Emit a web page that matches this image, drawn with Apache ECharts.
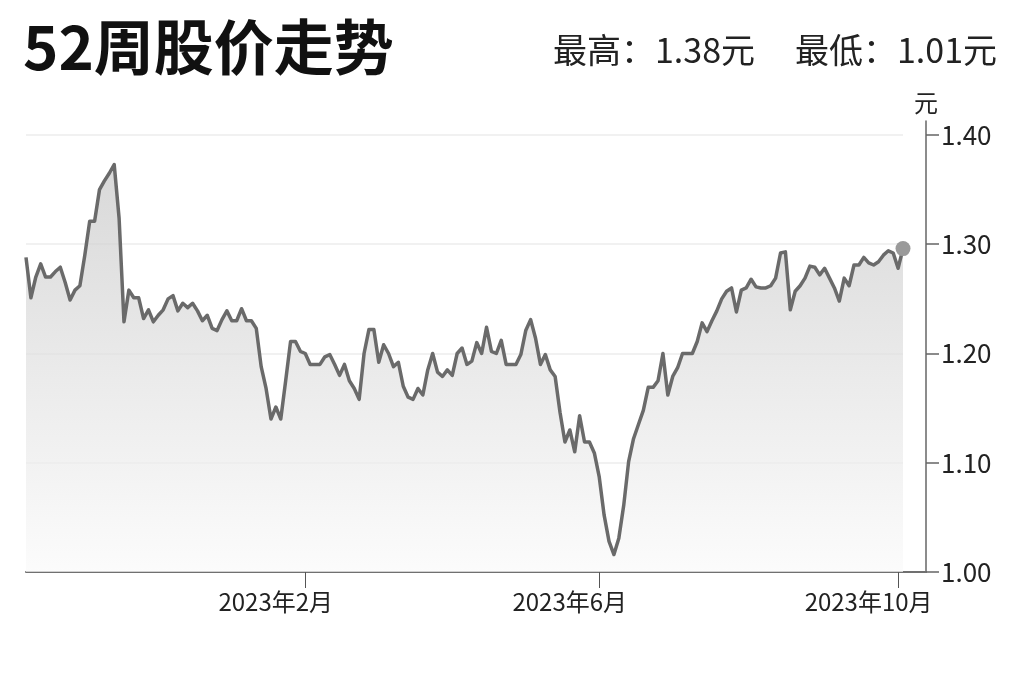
<!DOCTYPE html>
<html>
<head>
<meta charset="utf-8">
<script src="https://cdn.jsdelivr.net/npm/echarts@6/dist/echarts.min.js"></script>
<style>
html,body{margin:0;padding:0;background:#fff;}
#chart{width:1024px;height:682px;}
</style>
</head>
<body>
<div id="chart"></div>
<script>
// ---- data ----
const titleText = '52周股价走势';
const highText = '最高：1.38元';
const lowText = '最低：1.01元';
const unitName = '元';
const startDate = [2022, 10, 10];   // first sample (y, m, d)
const stepDays = 2;                 // days between samples
const labelMonths = [2, 6, 10];
const yMin = 1.0, yMax = 1.4, yStep = 0.1;

const closePrices = [
  1.288, 1.251, 1.270, 1.282, 1.270, 1.270, 1.275, 1.279, 1.265, 1.249,
  1.258, 1.262, 1.290, 1.321, 1.321, 1.350, 1.358, 1.365, 1.373, 1.324,
  1.229, 1.258, 1.251, 1.251, 1.232, 1.240, 1.229, 1.235, 1.240, 1.250,
  1.253, 1.239, 1.246, 1.242, 1.246, 1.239, 1.230, 1.235, 1.223, 1.221,
  1.231, 1.239, 1.230, 1.230, 1.241, 1.230, 1.230, 1.223, 1.188, 1.168,
  1.140, 1.151, 1.140, 1.175, 1.211, 1.211, 1.202, 1.200, 1.190, 1.190,
  1.190, 1.197, 1.199, 1.190, 1.180, 1.190, 1.175, 1.168, 1.158, 1.200,
  1.222, 1.222, 1.192, 1.208, 1.200, 1.188, 1.192, 1.170, 1.160, 1.158,
  1.168, 1.162, 1.185, 1.200, 1.183, 1.179, 1.185, 1.180, 1.200, 1.205,
  1.190, 1.193, 1.210, 1.200, 1.224, 1.202, 1.200, 1.212, 1.190, 1.190,
  1.190, 1.199, 1.221, 1.231, 1.214, 1.190, 1.199, 1.185, 1.179, 1.146,
  1.119, 1.130, 1.110, 1.143, 1.119, 1.119, 1.109, 1.087, 1.052, 1.028,
  1.016, 1.031, 1.061, 1.101, 1.122, 1.135, 1.148, 1.169, 1.169, 1.175,
  1.200, 1.162, 1.179, 1.187, 1.200, 1.200, 1.200, 1.211, 1.228, 1.220,
  1.230, 1.239, 1.250, 1.257, 1.260, 1.238, 1.258, 1.260, 1.268, 1.261,
  1.260, 1.260, 1.262, 1.269, 1.292, 1.293, 1.240, 1.257, 1.262, 1.269,
  1.280, 1.279, 1.272, 1.278, 1.269, 1.260, 1.248, 1.269, 1.262, 1.281,
  1.281, 1.288, 1.283, 1.281, 1.284, 1.290, 1.294, 1.292, 1.278, 1.296
];

// ---- build categories (dates) ----
const dates = [];
const t0 = Date.UTC(startDate[0], startDate[1] - 1, startDate[2]);
for (let i = 0; i < closePrices.length; i++) {
  const d = new Date(t0 + i * stepDays * 86400000);
  const mm = String(d.getUTCMonth() + 1).padStart(2, '0');
  const dd = String(d.getUTCDate()).padStart(2, '0');
  dates.push(d.getUTCFullYear() + '-' + mm + '-' + dd);
}
const isLabelDate = (idx, val) => {
  const p = String(val).split('-');
  return p[2] === '01' && labelMonths.indexOf(+p[1]) >= 0;
};
const lastIdx = closePrices.length - 1;

const FONT = '"Noto Sans CJK SC", "Noto Sans", sans-serif';
const chart = echarts.init(document.getElementById('chart'), null, {renderer: 'canvas'});
chart.setOption({
  animation: false,
  backgroundColor: '#ffffff',
  textStyle: {fontFamily: FONT},
  graphic: [
    {type: 'text', x: 23, y: 47,
     style: {text: titleText, font: 'bold 60px ' + FONT, fill: '#111111', align: 'left', verticalAlign: 'middle'}},
    {type: 'text', x: 755, y: 50,
     style: {text: highText, font: '34px ' + FONT, fill: '#222222', align: 'right', verticalAlign: 'middle'}},
    {type: 'text', x: 997, y: 50,
     style: {text: lowText, font: '34px ' + FONT, fill: '#222222', align: 'right', verticalAlign: 'middle'}}
  ],
  grid: [
    {left: 26, right: 121, top: 135, bottom: 110, containLabel: false},
    {left: 26, right: 98, top: 121, bottom: 110, containLabel: false}
  ],
  xAxis: [
    {
      type: 'category', gridIndex: 0, data: dates, boundaryGap: false,
      axisLine: {show: false},
      axisTick: {show: true, interval: isLabelDate, length: 16, lineStyle: {color: '#555555', width: 1}},
      axisLabel: {
        show: true, interval: isLabelDate, margin: 18,
        fontSize: 24, color: '#222222', fontFamily: FONT,
        align: 'center', padding: [0, 59, 0, 0],
        formatter: (val) => {
          const p = String(val).split('-');
          return p[0] + '年' + (+p[1]) + '月';
        }
      },
      splitLine: {show: false}
    },
    {
      type: 'value', gridIndex: 1, min: 0, max: 1,
      axisLine: {show: true, onZero: false, lineStyle: {color: '#707070', width: 2}},
      axisTick: {show: false}, axisLabel: {show: false}, splitLine: {show: false}
    }
  ],
  yAxis: [
    {
      type: 'value', gridIndex: 0, position: 'right', offset: 23,
      min: yMin, max: yMax, interval: yStep,
      name: unitName, nameLocation: 'end', nameGap: 20,
      nameTextStyle: {fontSize: 24, color: '#222222', fontFamily: FONT, align: 'center'},
      axisLine: {show: false, onZero: false},
      axisTick: {show: true, inside: false, length: 13, lineStyle: {color: '#666666', width: 1.5}},
      axisLabel: {show: true, margin: 15, fontSize: 26, color: '#222222', fontFamily: FONT,
                  formatter: (v) => v.toFixed(2)},
      splitLine: {show: true, lineStyle: {color: '#ececec', width: 1.5}}
    },
    {
      type: 'value', gridIndex: 1, position: 'right', min: 0, max: 1,
      axisLine: {show: true, onZero: false, lineStyle: {color: '#666666', width: 1.5}},
      axisTick: {show: false}, axisLabel: {show: false}, splitLine: {show: false}
    }
  ],
  series: [
    {
      type: 'line', xAxisIndex: 0, yAxisIndex: 0,
      data: closePrices,
      showSymbol: false, symbol: 'none', smooth: false,
      lineStyle: {color: '#6a6a6a', width: 3.5, join: 'round'},
      areaStyle: {
        color: new echarts.graphic.LinearGradient(0, 0, 0, 1, [
          {offset: 0, color: '#c8c8c8'},
          {offset: 1, color: '#fafafa'}
        ])
      },
      markPoint: {
        symbol: 'circle', symbolSize: 15,
        itemStyle: {color: '#9a9a9a'},
        label: {show: false},
        silent: true,
        data: [{coord: [lastIdx, closePrices[lastIdx]]}]
      },
      z: 3
    }
  ]
});
</script>
</body>
</html>
